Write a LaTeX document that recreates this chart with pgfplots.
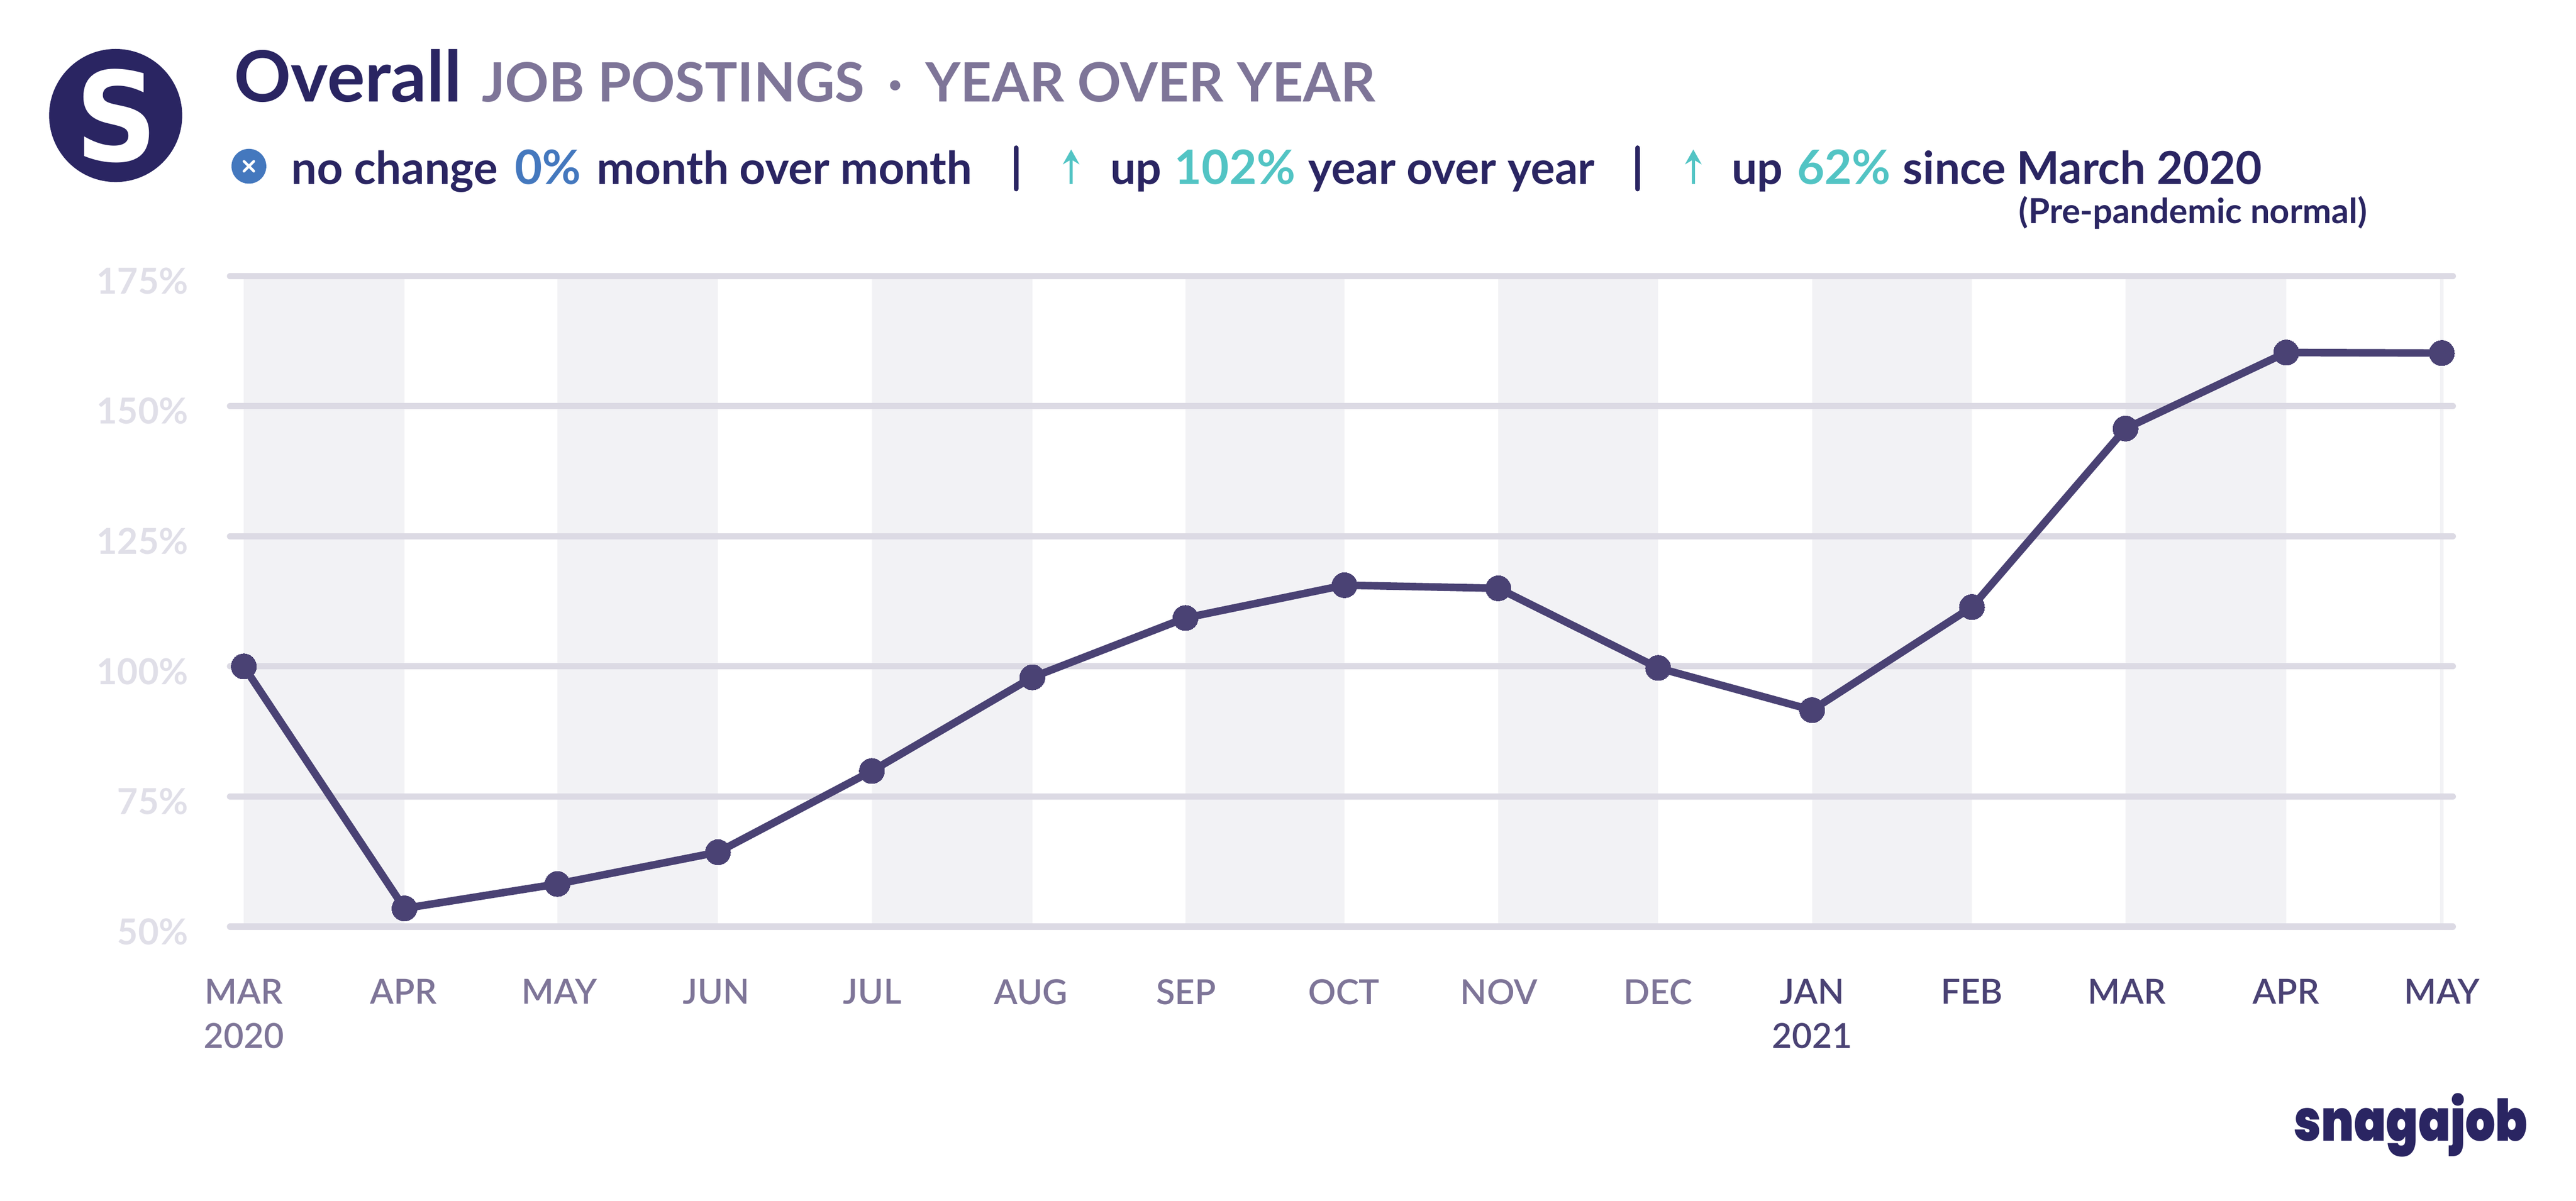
\documentclass[border=0pt]{standalone}
\usepackage{fontspec}
\setmainfont{Lato}
\newfontfamily\semi{Lato Semibold}
\newfontfamily\heavy{Poppins Black}
\newfontfamily\logofont{DejaVu Sans Bold}
\usepackage{pgfplots}
\pgfplotsset{compat=1.18}
\usepackage{pgfplotstable}
\usetikzlibrary{arrows.meta}

\definecolor{navy}{HTML}{2A2562}
\definecolor{greytxt}{HTML}{7E7598}
\definecolor{bluetxt}{HTML}{4478BE}
\definecolor{tealtxt}{HTML}{52C4C4}
\definecolor{linecol}{HTML}{4A4274}
\definecolor{gridcol}{HTML}{DCDAE4}
\definecolor{bandcol}{HTML}{F2F2F5}
\definecolor{ylab}{HTML}{E0DFE8}

% x is the position of the month on the time scale, months are not evenly spaced
\pgfplotstableread{
x y
148.4 100.0
246.2 53.5
339.3 58.2
437.0 64.3
530.7 79.9
628.4 97.9
721.6 109.3
818.4 115.6
912.0 115.0
1009.3 99.7
1103.0 91.6
1200.3 111.4
1293.8 145.7
1391.6 160.3
1486.3 160.2
}\jobs

\newcommand\gm[1]{\textcolor{greytxt}{#1}}
\newcommand\dm[1]{\textcolor{linecol}{#1}}
\newcommand\tx[4]{\node[anchor=base west,inner sep=0pt,text=#1,font=#3] at (#2) {#4};}
\newcommand\lineb{\bfseries\fontsize{13.8}{16}\selectfont}
\newcommand\linep{\bfseries\fontsize{14.4}{16}\selectfont}
\newcommand\titleb{\bfseries\fontsize{16.5}{20}\selectfont}

\begin{document}
\begin{tikzpicture}
\begin{axis}[
    at={(70pt,-282pt)}, anchor=south west,
    scale only axis,
    width=676.5pt, height=198pt,
    xmin=140, xmax=1493, ymin=50, ymax=175,
    clip=false,
    set layers,
    axis line style={draw=none},
    tick style={draw=none},
    ymajorgrids,
    grid style={color=gridcol, line width=1.9pt, line cap=round},
    ytick={50,75,100,125,150,175},
    yticklabels={50\%,75\%,100\%,125\%,150\%,175\%},
    yticklabel style={font=\bfseries\fontsize{10.9}{12}\selectfont, text=ylab, anchor=east, inner sep=0pt, xshift=-12.5pt, yshift=-1.5pt},
    xtick={148.4,245.6,340.5,436,531,627.5,722,818,912.5,1009.3,1103,1200.3,1294.5,1391.6,1486.3},
    xticklabels={{\gm{MAR}\\\gm{2020}},\gm{APR},\gm{MAY},\gm{JUN},\gm{JUL},\gm{AUG},\gm{SEP},\gm{OCT},\gm{NOV},\gm{DEC},{\dm{JAN}\\\dm{2021}},\dm{FEB},\dm{MAR},\dm{APR},\dm{MAY}},
    xticklabel style={font=\semi\fontsize{10.5}{13.5}\selectfont, anchor=north, align=center, inner sep=0pt, yshift=-15.8pt},
]
% shaded months, under the grid
\addplot[on layer=axis background, const plot mark left, draw=none, fill=bandcol] coordinates {
    (148.4,175) (246.2,50) (339.3,175) (437,50) (530.7,175) (628.4,50) (721.6,175) (818.4,50)
    (912,175) (1009.3,50) (1103,175) (1200.3,50) (1293.8,175) (1391.6,50)
} \closedcycle;
\addplot[on layer=axis background, bandcol, line width=1.1pt] coordinates {(1486.3,50) (1486.3,175)};

\addplot[linecol, line width=2.3pt, line join=round, mark=*, mark size=3.85pt,
    mark options={fill=linecol, draw=linecol, line width=0pt}] table [x=x, y=y] {\jobs};
\end{axis}

\begin{scope}[x=0.5pt, y=-0.5pt]
% logo
\fill[navy] (70.4,70.3) circle (20.25pt);
\node[inner sep=0pt, text=white] at (70.8,70.5) {\resizebox{25pt}{28pt}{\logofont S}};

% title
\tx{navy}{142,61.8}{\bfseries\fontsize{21.5}{24}\selectfont}{Overall}
\tx{greytxt}{293,61.8}{\titleb}{JOB POSTINGS}
\tx{greytxt}{540,61.8}{\titleb}{·}
\tx{greytxt}{563,61.8}{\titleb}{YEAR OVER YEAR}

% summary line
\fill[bluetxt] (151.5,101.2) circle (5.3pt);
\draw[white, line width=0.8pt, line cap=round] (148.5,98.2) -- (154.5,104.2) (154.5,98.2) -- (148.5,104.2);
\tx{navy}{177,112}{\lineb}{no change}
\tx{bluetxt}{313,112}{\linep}{0\%}
\tx{navy}{363,112}{\lineb}{month over month}
\draw[navy, line width=1.5pt, line cap=round] (618.5,90) -- (618.5,115);
\draw[tealtxt, line width=0.9pt, -{Stealth[length=4.5pt,width=5pt]}] (652,112) -- (652,91);
\tx{navy}{675.5,112}{\lineb}{up}
\tx{tealtxt}{714.5,112}{\linep}{102\%}
\tx{navy}{796,112}{\lineb}{year over year}
\draw[navy, line width=1.5pt, line cap=round] (996.7,90) -- (996.7,115);
\draw[tealtxt, line width=0.9pt, -{Stealth[length=4.5pt,width=5pt]}] (1030.7,112) -- (1030.7,91);
\tx{navy}{1053.7,112}{\lineb}{up}
\tx{tealtxt}{1093.5,112}{\linep}{62\%}
\tx{navy}{1158,112}{\lineb}{since March 2020}
\tx{navy}{1228.5,136}{\bfseries\fontsize{10.5}{12}\selectfont}{(Pre-pandemic normal)}

% wordmark
\tx{navy}{1396,694.5}{\heavy\fontsize{17.5}{20}\selectfont}{\scalebox{0.82}[1]{snagajob}}
\end{scope}

% page is exactly the reference's proportions
\pgfresetboundingbox
\path[use as bounding box] (0,0) rectangle (784pt,-365.42pt);
\end{tikzpicture}
\end{document}
